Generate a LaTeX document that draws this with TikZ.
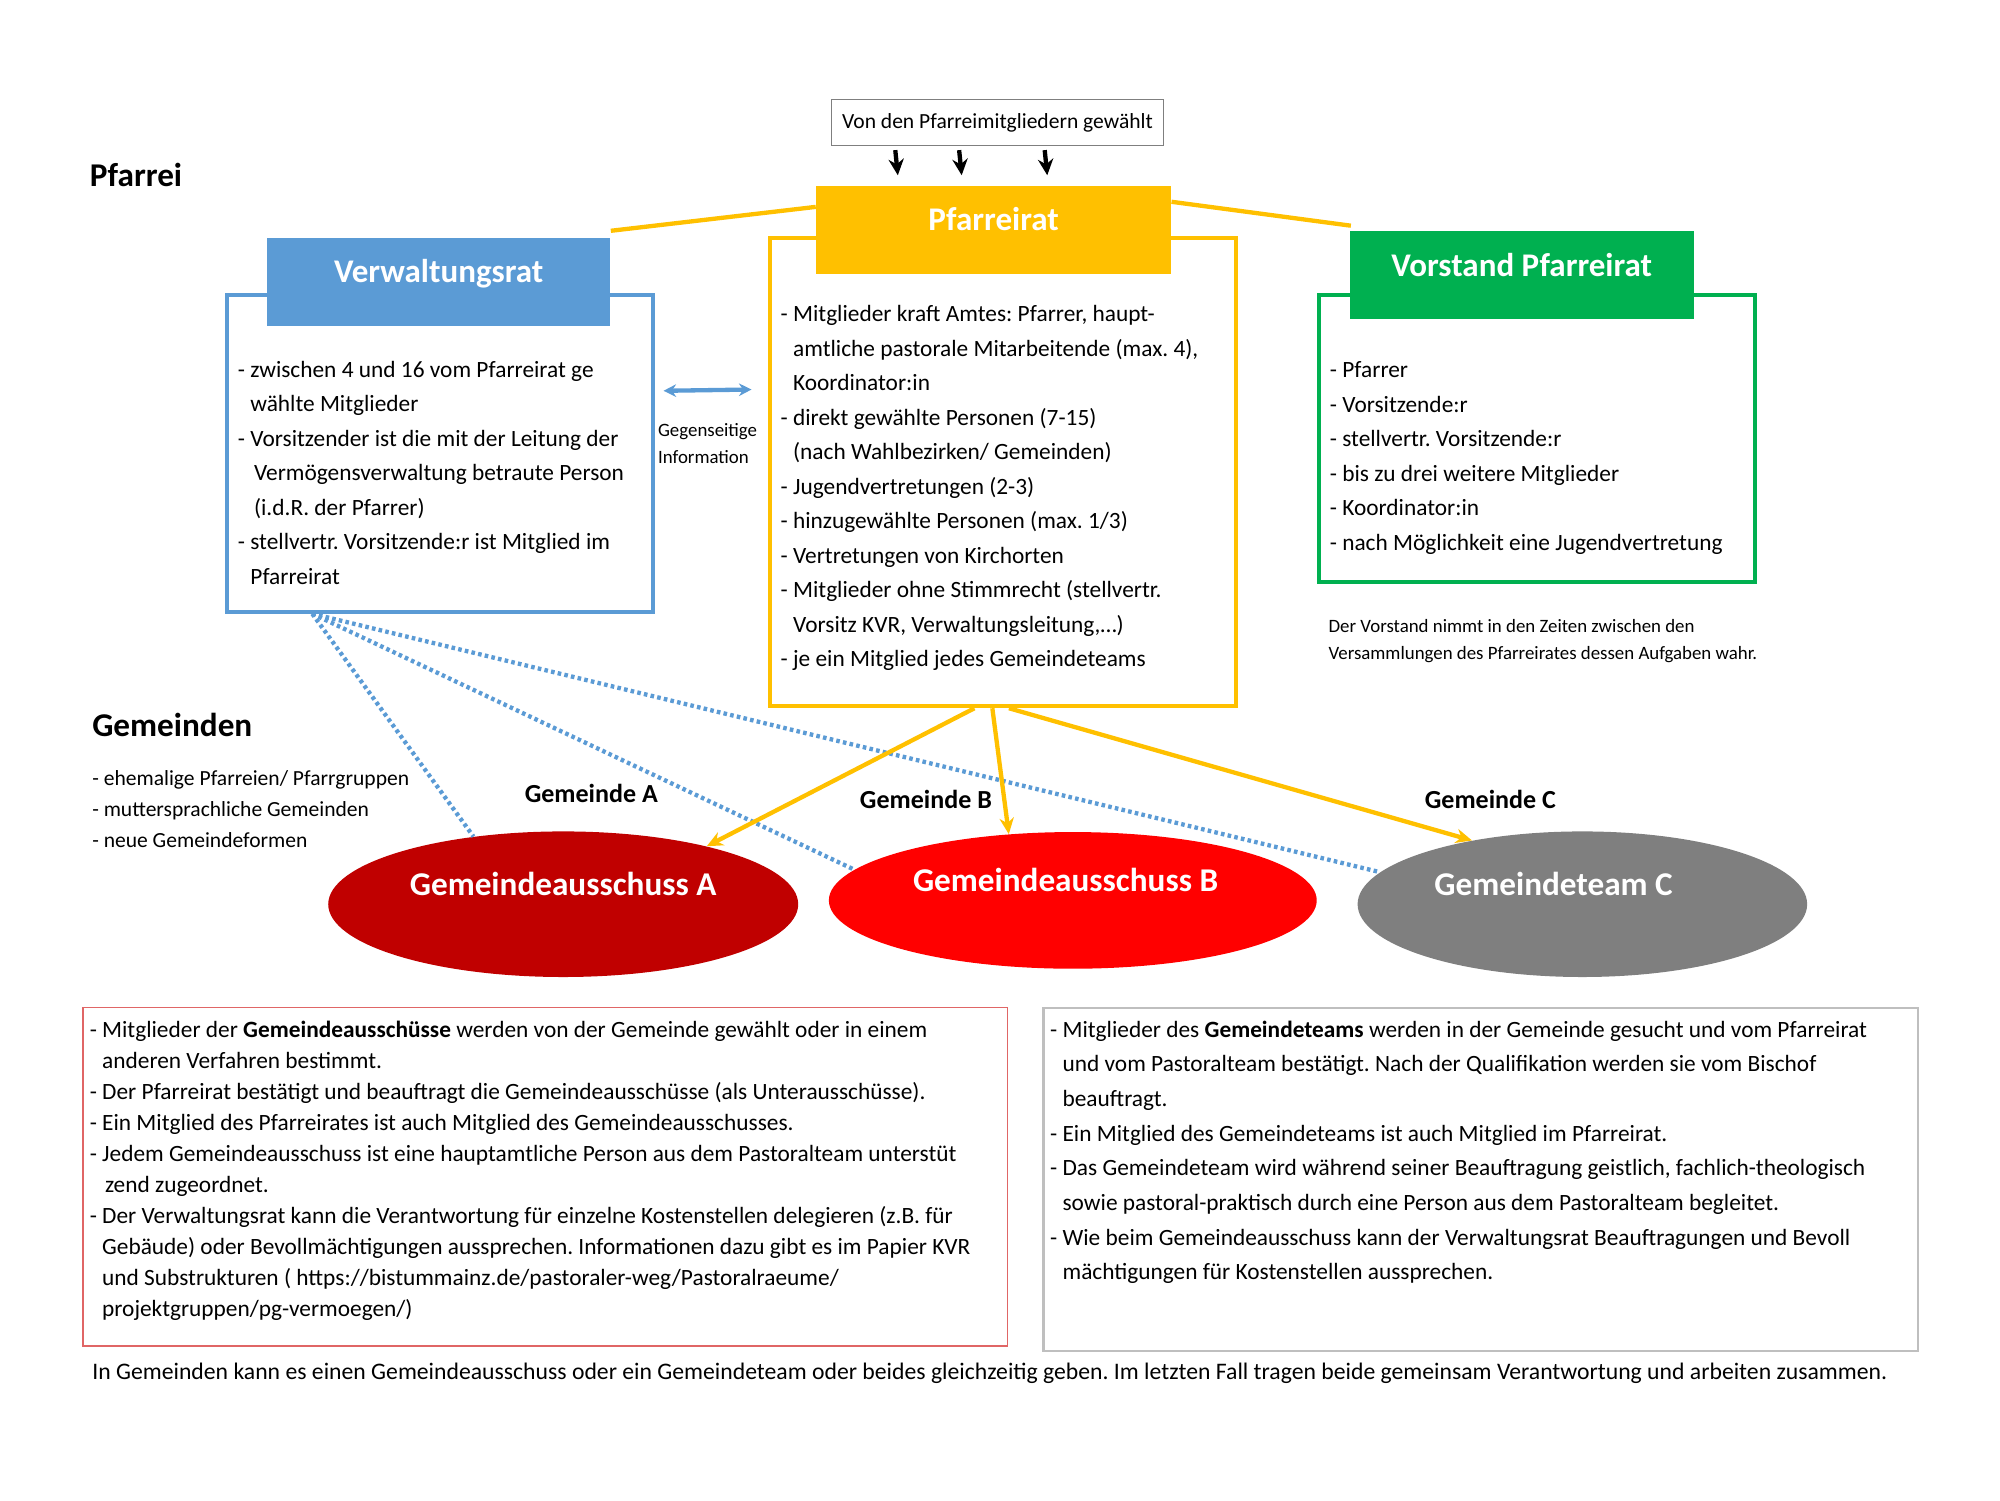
\documentclass[tikz,border=0pt]{standalone}
\usepackage{fontspec}
\setmainfont{Carlito}
\usetikzlibrary{arrows.meta,shapes.geometric}

\definecolor{prgelb}{HTML}{FFC000}
\definecolor{vrblau}{HTML}{5B9BD5}
\definecolor{vsgruen}{HTML}{00B050}
\definecolor{gadunkelrot}{HTML}{C00000}
\definecolor{garot}{HTML}{FF0000}
\definecolor{gtgrau}{HTML}{7F7F7F}
\definecolor{rahmenrot}{HTML}{E06666}
\definecolor{rahmengrau}{HTML}{BFBFBF}

\newcommand{\pxl}{0.025cm}
\newcommand{\weiter}{\hphantom{- }}
\frenchspacing

\tikzset{
	kasten/.style={rectangle, draw, line width=2.2pt, inner sep=0pt},
	kopf/.style={rectangle, minimum width=#1*\pxl, minimum height=69*\pxl, inner sep=0pt,
		text=white, text depth=12pt, font=\fontsize{18.4}{20}\selectfont\bfseries},
	gemeinde/.style={ellipse, inner sep=0pt, text=white, text depth=22.5pt,
		font=\fontsize{18.5}{20}\selectfont\bfseries},
	liste/.style={anchor=north west, align=left, inner sep=0pt, font=\fontsize{13}{19.2}\selectfont},
	titel/.style={anchor=west, inner sep=0pt, font=\fontsize{18.5}{20}\selectfont\bfseries},
	gemname/.style={inner sep=0pt, font=\fontsize{14.5}{16}\selectfont\bfseries},
	klein/.style={anchor=north west, align=left, inner sep=0pt, font=\fontsize{10.5}{15}\selectfont},
	gelblinie/.style={draw=prgelb, line width=2.4pt},
	gelbpfeil/.style={draw=prgelb, line width=2.4pt, -{Stealth[length=9pt,width=8pt]}},
	blaupunkt/.style={draw=vrblau, line width=2.4pt, dash pattern=on 2pt off 1.8pt},
	wahlpfeil/.style={draw=black, line width=2.4pt, -{Stealth[length=9pt,width=8.5pt]}},
}

\begin{document}
\begin{tikzpicture}[x=0.025cm, y=-0.025cm]
\useasboundingbox (0,0) rectangle (1566,1175);

% Pfarrei
\node[titel] (pfarrei) at (70,137) {Pfarrei};
\node[rectangle, draw=gtgrau, line width=0.8pt, minimum width=260*\pxl, minimum height=36*\pxl,
	inner sep=0pt, font=\fontsize{12}{14}\selectfont] (gewaehlt) at (781,96) {Von den Pfarreimitgliedern gewählt};

% Kaesten
\node[kasten, draw=vrblau, minimum width=333*\pxl, minimum height=248*\pxl] (vrbox) at (344.5,355) {};
\node[kasten, draw=prgelb, minimum width=365*\pxl, minimum height=367*\pxl] (prbox) at (785.5,369.5) {};
\node[kasten, draw=vsgruen, minimum width=341*\pxl, minimum height=225*\pxl] (vsbox) at (1203.5,343.5) {};

\node[kopf=269, fill=vrblau] (vrkopf) at (343.5,220.5) {Verwaltungsrat};
\node[kopf=278, fill=prgelb] (prkopf) at (778,180) {Pfarreirat};
\node[kopf=269, fill=vsgruen] (vskopf) at (1191.5,215.5) {Vorstand Pfarreirat};

\draw[gelblinie] ([shift={(0,-5)}]vrkopf.north east) -- ([shift={(0,-18)}]prkopf.west);
\draw[gelblinie] ([shift={(0,-22)}]prkopf.east) -- ([shift={(1,-4)}]vskopf.north west);

\foreach \dx in {-80,-30,37}
	\draw[wahlpfeil] ([shift={(\dx,3)}]gewaehlt.south) -- ([shift={(\dx+5,-8)}]prkopf.north);

% Texte in den Kaesten
\node[liste] (vrtext) at (186,282.5) {- zwischen 4 und 16 vom Pfarreirat ge\\
	\weiter wählte Mitglieder\\
	- Vorsitzender ist die mit der Leitung der\\
	\hspace*{9pt}Vermögensverwaltung betraute Person\\
	\hspace*{9pt}(i.d.R. der Pfarrer)\\
	- stellvertr. Vorsitzende:r ist Mitglied im\\
	\weiter Pfarreirat};

\node[liste] (prtext) at (611,239) {- Mitglieder kraft Amtes: Pfarrer, haupt-\\
	\weiter amtliche pastorale Mitarbeitende (max. 4),\\
	\weiter Koordinator:in\\
	- direkt gewählte Personen (7-15)\\
	\weiter (nach Wahlbezirken/ Gemeinden)\\
	- Jugendvertretungen (2-3)\\
	- hinzugewählte Personen (max. 1/3)\\
	- Vertretungen von Kirchorten\\
	- Mitglieder ohne Stimmrecht (stellvertr.\\
	\weiter Vorsitz KVR, Verwaltungsleitung,…)\\
	- je ein Mitglied jedes Gemeindeteams};

\node[liste] (vstext) at (1041,283) {- Pfarrer\\
	- Vorsitzende:r\\
	- stellvertr. Vorsitzende:r\\
	- bis zu drei weitere Mitglieder\\
	- Koordinator:in\\
	- nach Möglichkeit eine Jugendvertretung};

\node[klein] (vsnotiz) at (1040,485) {Der Vorstand nimmt in den Zeiten zwischen den\\
	Versammlungen des Pfarreirates dessen Aufgaben wahr.};

\draw[draw=vrblau, line width=2.4pt, {Stealth[length=7pt,width=7pt]}-{Stealth[length=7pt,width=7pt]}]
	([shift={(7,-49)}]vrbox.east) -- ([shift={(-13,-64.5)}]prbox.west);
\node[klein] (info) at (515,331) {Gegenseitige\\Information};

% Gemeinden
\node[titel] (gemeinden) at (72,568) {Gemeinden};
\node[klein, font=\fontsize{12}{17.4}\selectfont] (gemliste) at (72,603) {- ehemalige Pfarreien/ Pfarrgruppen\\
	- muttersprachliche Gemeinden\\
	- neue Gemeindeformen};

\node[gemeinde, fill=gadunkelrot, minimum width=368*\pxl, minimum height=114*\pxl] (gaA) at (441,708) {Gemeindeausschuss A};
\node[gemeinde, fill=garot, minimum width=382*\pxl, minimum height=107*\pxl] (gaB) at (840,705) {Gemeindeausschuss B\hspace*{8pt}};
\node[gemeinde, fill=gtgrau, minimum width=352*\pxl, minimum height=114*\pxl] (gtC) at (1239,708) {Gemeindeteam C\hspace*{32pt}};

\node[gemname] (nameA) at (463,621) {Gemeinde A};
\node[gemname] (nameB) at (725,626) {Gemeinde B};
\node[gemname] (nameC) at (1167,626) {Gemeinde C};

\draw[blaupunkt] ([shift={(-100,0)}]vrbox.south) -- (gaA.143);
\draw[blaupunkt] ([shift={(-100,0)}]vrbox.south) -- (gaB.172);
\draw[blaupunkt] ([shift={(-100,0)}]vrbox.south) -- (gtC.171);

\draw[gelbpfeil] ([shift={(-22.5,0)}]prbox.south) -- (gaA.22);
\draw[gelbpfeil] ([shift={(-8.5,0)}]prbox.south) -- (gaB.134);
\draw[gelbpfeil] ([shift={(4.5,0)}]prbox.south) -- (gtC.150);

% Erlaeuterungen unten
\node[rectangle, draw=rahmenrot, line width=0.8pt, minimum width=724*\pxl, minimum height=265*\pxl] (gabox) at (427,921.5) {};
\node[rectangle, draw=rahmengrau, line width=1.2pt, minimum width=685*\pxl, minimum height=269*\pxl] (gtbox) at (1159.5,923.5) {};

\node[liste, font=\fontsize{13}{17.3}\selectfont] (gatext) at (70,799) {- Mitglieder der \textbf{Gemeindeausschüsse} werden von der Gemeinde gewählt oder in einem\\
	\weiter anderen Verfahren bestimmt.\\
	- Der Pfarreirat bestätigt und beauftragt die Gemeindeausschüsse (als Unterausschüsse).\\
	- Ein Mitglied des Pfarreirates ist auch Mitglied des Gemeindeausschusses.\\
	- Jedem Gemeindeausschuss ist eine hauptamtliche Person aus dem Pastoralteam unterstüt\\
	\hspace*{8.5pt}zend zugeordnet.\\
	- Der Verwaltungsrat kann die Verantwortung für einzelne Kostenstellen delegieren (z.B. für\\
	\weiter Gebäude) oder Bevollmächtigungen aussprechen. Informationen dazu gibt es im Papier KVR\\
	\weiter und Substrukturen ( https://bistummainz.de/pastoraler-weg/Pastoralraeume/\\
	\weiter projektgruppen/pg-vermoegen/)};

\node[liste, font=\fontsize{13}{19.3}\selectfont] (gttext) at (822,799) {- Mitglieder des \textbf{Gemeindeteams} werden in der Gemeinde gesucht und vom Pfarreirat\\
	\weiter und vom Pastoralteam bestätigt. Nach der Qualifikation werden sie vom Bischof\\
	\weiter beauftragt.\\
	- Ein Mitglied des Gemeindeteams ist auch Mitglied im Pfarreirat.\\
	- Das Gemeindeteam wird während seiner Beauftragung geistlich, fachlich-theologisch\\
	\weiter sowie pastoral-praktisch durch eine Person aus dem Pastoralteam begleitet.\\
	- Wie beim Gemeindeausschuss kann der Verwaltungsrat Beauftragungen und Bevoll\\
	\weiter mächtigungen für Kostenstellen aussprechen.};

\node[anchor=west, inner sep=0pt, font=\fontsize{13.2}{16}\selectfont] (fuss) at (72,1075) {In Gemeinden kann es einen Gemeindeausschuss oder ein Gemeindeteam oder beides gleichzeitig geben. Im letzten Fall tragen beide gemeinsam Verantwortung und arbeiten zusammen.};
\end{tikzpicture}
\end{document}
